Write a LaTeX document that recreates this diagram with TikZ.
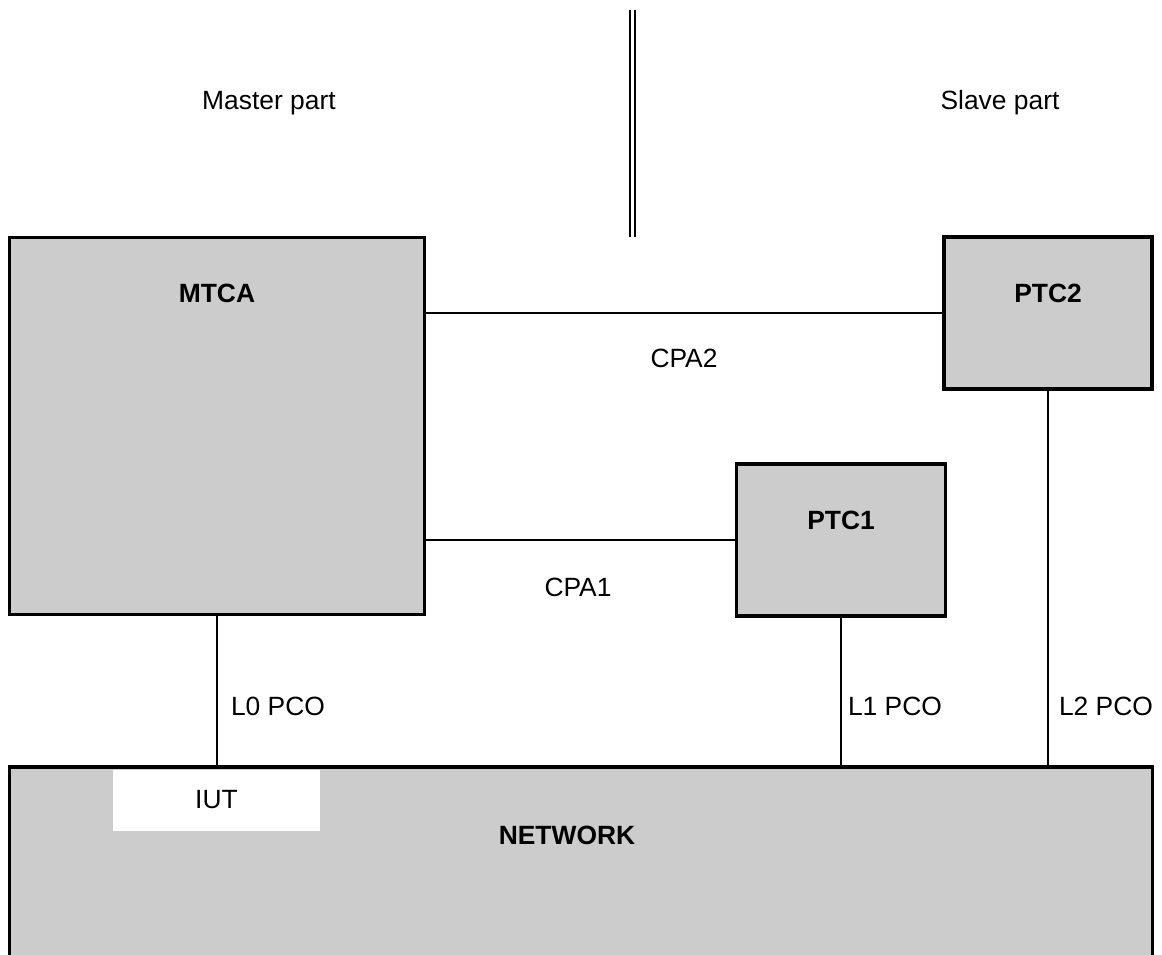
\documentclass[tikz,border=0pt]{standalone}
\usepackage{fontspec}
\setmainfont{Liberation Sans}
\usetikzlibrary{positioning}
\definecolor{boxgray}{HTML}{CCCCCC}
\tikzset{
  box/.style={draw,fill=boxgray,line width=3.8pt,inner sep=0pt},
  conn/.style={line width=2.2pt},
  lbl/.style={font=\fontsize{26.4}{31}\selectfont,inner sep=0pt},
  blbl/.style={font=\fontsize{26.4}{31}\selectfont\bfseries,inner sep=0pt},
  divider/.style={line width=2.3pt,double,double distance=3pt}
}
\begin{document}
\begin{tikzpicture}[x=1pt,y=-1pt]
\useasboundingbox (0,0) rectangle (1162,955);

% master / slave divider
\coordinate (divtop) at (632.5,10);
\coordinate (divbot) at (632.5,237);
\draw [divider] (divtop) -- (divbot);
\node [lbl] (master) at (269,103) {Master part};
\node [lbl] (slave) at (1000,103) {Slave part};

% test components
\node [box,minimum width=415pt,minimum height=377pt] (mtca) at (217,426) {};
\node [box,minimum width=208pt,minimum height=152pt] (ptc2) at (1048,313) {};
\node [box,minimum width=209pt,minimum height=152pt] (ptc1) at (841,540) {};

% network with IUT
\node [box,minimum width=1143pt,minimum height=240pt] (net) at (581,887) {};
\node [fill=white,inner sep=0pt,minimum width=207pt,minimum height=61pt] (iut) at (216.5,800) {};
\node [lbl] (iutt) at (iut.center) {IUT};

\node [blbl] (mtcat) at (217,293) {MTCA};
\node [blbl] (ptc2t) at (1048,293) {PTC2};
\node [blbl] (ptc1t) at (841,520) {PTC1};
\node [blbl] (nett) at (567,835) {NETWORK};

% coordination points
\draw [conn] (ptc2.west) -- (ptc2.west -| mtca.east);
\draw [conn] (ptc1.west) -- (ptc1.west -| mtca.east);
\node [lbl] (cpa2) at (684,358) {CPA2};
\node [lbl] (cpa1) at (578,587) {CPA1};

% points of control and observation
\draw [conn] (mtca.south) -- (mtca.south |- net.north);
\draw [conn] (ptc1.south) -- (ptc1.south |- net.north);
\draw [conn] (ptc2.south) -- (ptc2.south |- net.north);
\node [lbl] (l0) at (278,706) {L0 PCO};
\node [lbl] (l1) at (895,706) {L1 PCO};
\node [lbl] (l2) at (1106,706) {L2 PCO};
\end{tikzpicture}
\end{document}
